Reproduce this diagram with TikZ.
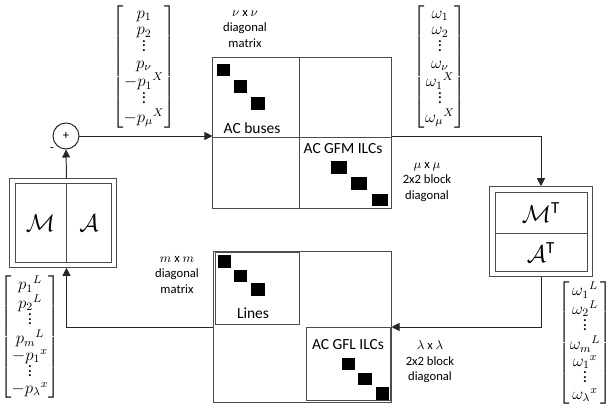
\documentclass[tikz,border=0pt]{standalone}
\usepackage{amsmath}
\usepackage{fontspec}
\setmainfont{Carlito}
\usetikzlibrary{arrows.meta, positioning, fit}
\newcommand{\vd}{\vbox{\baselineskip3.3pt\lineskiplimit0pt\hbox{.}\hbox{.}\hbox{.}}}

\begin{document}
\begin{tikzpicture}[x=0.025cm, y=-0.025cm,
    font=\small,
    box/.style={draw=black!70, line width=0.7pt, inner sep=0pt},
    cell/.style={box, font=\LARGE},
    outer/.style={box, inner sep=0.12cm},
    blk/.style={fill=black, inner sep=0pt, minimum width=0.33cm, minimum height=0.31cm},
    wblk/.style={blk, minimum width=0.4cm},
    flow/.style={-{Triangle[length=2mm, width=2mm]}, line width=0.7pt, draw=black!85},
    note/.style={align=center, font=\small, inner sep=1pt},
    title/.style={font=\fontsize{11}{13}\selectfont, inner sep=1pt},
    vec/.style={font=\large, inner sep=0pt}
]
    \useasboundingbox (0,0) rectangle (610,412);
    \renewcommand{\arraystretch}{0.84}

    % signal vectors
    \node[vec] (pvec) at (144,67) {$\begin{bmatrix} p_1\\ p_2\\ \vd\\ p_\nu\\ -{p_1}^{X}\\ \vd\\ -{p_\mu}^{X} \end{bmatrix}$};
    \node[vec] (wvec) at (440,67) {$\begin{bmatrix} \omega_1\\ \omega_2\\ \vd\\ \omega_\nu\\ {\omega_1}^{X}\\ \vd\\ {\omega_\mu}^{X} \end{bmatrix}$};
    \node[vec] (plvec) at (30,337) {$\begin{bmatrix} {p_1}^{L}\\ {p_2}^{L}\\ \vd\\ {p_m}^{L}\\ -{p_1}^{x}\\ \vd\\ -{p_\lambda}^{x} \end{bmatrix}$};
    \node[vec] (wlvec) at (585,343) {$\begin{bmatrix} {\omega_1}^{L}\\ {\omega_2}^{L}\\ \vd\\ {\omega_m}^{L}\\ {\omega_1}^{x}\\ \vd\\ {\omega_\lambda}^{x} \end{bmatrix}$};

    % summing junction
    \node[draw=black!85, circle, line width=0.7pt, minimum size=0.65cm, inner sep=0pt] (sum) at (66,136) {+};
    \node[inner sep=0pt] (minus) at (52,149) {-};

    % incidence blocks
    \node[cell, minimum width=1.275cm, minimum height=1.95cm] (mcell) at (40.5,223) {$\mathcal{M}$};
    \node[cell, minimum width=1.1cm, minimum height=1.95cm, right=0pt of mcell] (acell) {$\mathcal{A}$};
    \node[outer, fit=(mcell)(acell)] (ma) {};

    \node[cell, minimum width=2.3cm, minimum height=1.025cm] (mtcell) at (541,212.5) {$\mathcal{M}^{\text{T}}$};
    \node[cell, minimum width=2.3cm, minimum height=0.925cm, below=0pt of mtcell] (atcell) {$\mathcal{A}^{\text{T}}$};
    \node[outer, fit=(mtcell)(atcell)] (mat) {};

    % upper block matrix
    \node[box, minimum width=4.45cm, minimum height=3.75cm] (topmat) at (302,133) {};
    \coordinate (tmid) at (299,137);
    \draw[box] (tmid |- topmat.north) -- (tmid |- topmat.south);
    \draw[box] (tmid -| topmat.west) -- (tmid -| topmat.east);
    \node[title] (busl) at (252,128) {AC buses};
    \node[title] (gfml) at (343,149) {AC GFM ILCs};
    \foreach \x/\y [count=\i] in {223.5/70, 240.5/86.5, 258/103.5}
        \node[blk] (bus\i) at (\x,\y) {};
    \foreach \x/\y [count=\i] in {338.5/167.5, 359/183.5, 379.5/200}
        \node[wblk] (gfm\i) at (\x,\y) {};

    % lower block matrix
    \node[box, minimum width=4.425cm, minimum height=3.75cm] (botmat) at (302.5,327) {};
    \node[box, minimum width=2.1cm, minimum height=1.775cm] (lines) at (257,288.5) {};
    \node[box, minimum width=2.1cm, minimum height=1.825cm] (gfl) at (348,363.5) {};
    \node[title] (linesl) at (253,313) {Lines};
    \node[title] (gfll) at (348,345) {AC GFL ILCs};
    \foreach \x/\y [count=\i] in {224.5/261.5, 240.5/276, 258/289.5}
        \node[blk] (line\i) at (\x,\y) {};
    \foreach \x/\y [count=\i] in {348.5/364, 365/379, 382.5/393.5}
        \node[blk] (gfl\i) at (\x,\y) {};

    % size notes
    \node[note] (nunote) at (245,29) {$\nu$ x $\nu$\\diagonal\\matrix};
    \node[note] (munote) at (427,182) {$\mu$ x $\mu$\\2x2 block\\diagonal};
    \node[note] (mnote) at (177,275) {$m$ x $m$\\diagonal\\matrix};
    \node[note] (lanote) at (430,362) {$\lambda$ x $\lambda$\\2x2 block\\diagonal};

    % loop
    \draw[flow] (ma.north -| mcell.east) -- (sum.south);
    \draw[flow] (sum.east) -- (sum -| topmat.west);
    \draw[flow] (sum -| topmat.east) -| (mat.north);
    \draw[flow] (mat.south) |- (botmat.east);
    \draw[flow] (botmat.west) -| (ma.south -| mcell.east);
\end{tikzpicture}
\end{document}
